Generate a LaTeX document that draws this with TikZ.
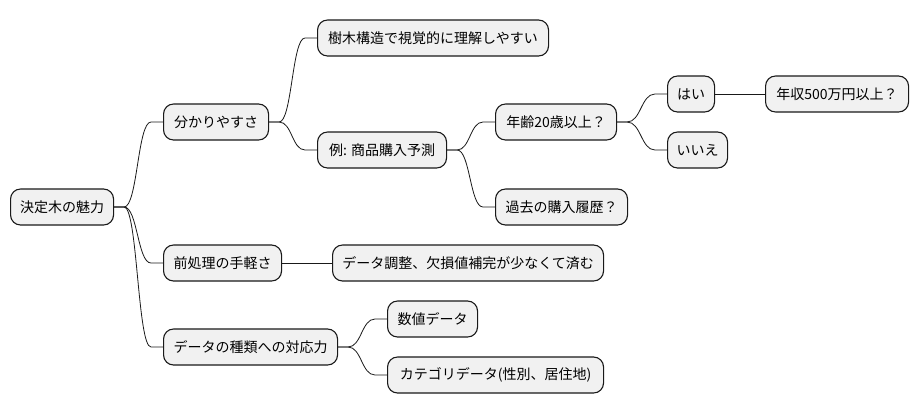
\documentclass[tikz,border=0pt]{standalone}
\usepackage{fontspec}
\usetikzlibrary{calc}
\setmainfont{Noto Sans CJK JP}
\begin{document}
\begin{tikzpicture}[x=1pt,y=-1pt,
  box/.style={draw=black!90,line width=1.1pt,fill=black!5.5,rounded corners=10pt,
    anchor=west,minimum height=36pt,inner xsep=3pt,inner ysep=0pt,
    font=\fontsize{14}{16}\selectfont},
  link/.style={line width=0.8pt,draw=black!90}]
\useasboundingbox (0,0) rectangle (920,415);
\node[box,minimum width=103pt] (root) at (10,207) {決定木の魅力};
\node[box,minimum width=105pt] (n1) at (163,122) {分かりやすさ};
\node[box,minimum width=231pt] (n11) at (317,38) {樹木構造で視覚的に理解しやすい};
\node[box,minimum width=129pt] (n12) at (317,150) {例: 商品購入予測};
\node[box,minimum width=121pt] (n121) at (495,122) {年齢20歳以上？};
\node[box,minimum width=47pt] (n1211) at (667,94) {はい};
\node[box,minimum width=143pt] (n12111) at (765,94) {年収500万円以上？};
\node[box,minimum width=60pt] (n1212) at (667,150) {いいえ};
\node[box,minimum width=132pt] (n122) at (495,207) {過去の購入履歴？};
\node[box,minimum width=118pt] (n2) at (163,263) {前処理の手軽さ};
\node[box,minimum width=271pt] (n21) at (332,263) {データ調整、欠損値補完が少なくて済む};
\node[box,minimum width=174pt] (n3) at (163,347) {データの種類への対応力};
\node[box,minimum width=90pt] (n31) at (387,319) {数値データ};
\node[box,minimum width=216pt] (n32) at (387,375) {カテゴリデータ(性別、居住地)};
\foreach \a/\b in {root/n1,root/n2,root/n3,n1/n11,n1/n12,n12/n121,n12/n122,n121/n1211,n121/n1212,n3/n31,n3/n32}{
  \path ([xshift=10pt]\a.east) coordinate (p) ([xshift=-12pt]\b.west) coordinate (q);
  \path ($(p)!0.5!(q)$) coordinate (m);
  \draw[link] (\a.east) -- (p) .. controls (m|-p) and (m|-q) .. (q) -- (\b.west);
}
\draw[link] (n1211.east) -- (n12111.west);
\draw[link] (n2.east) -- (n21.west);
\end{tikzpicture}
\end{document}
